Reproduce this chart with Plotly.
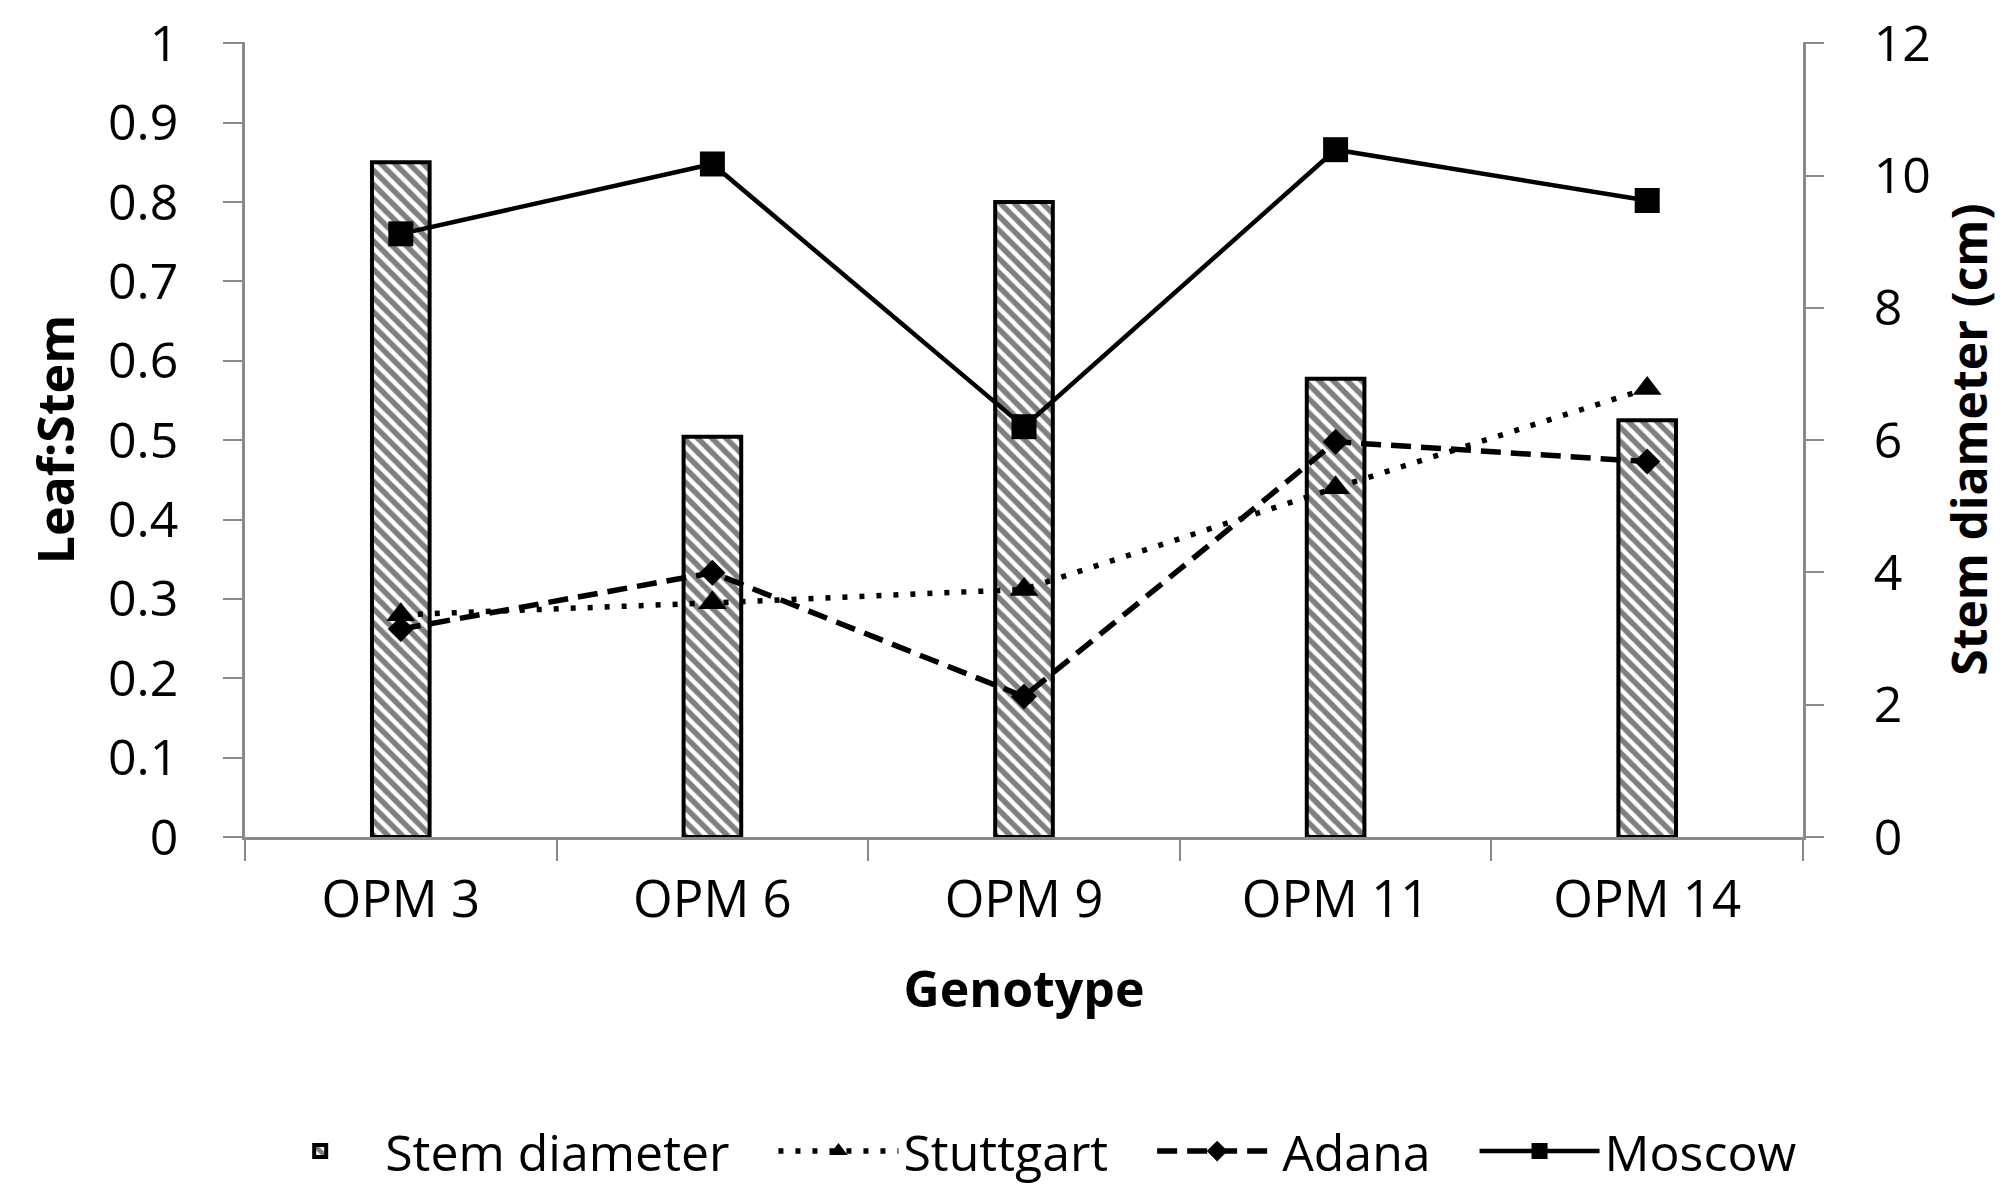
import plotly.graph_objects as go

genotypes = ["OPM 3", "OPM 6", "OPM 9", "OPM 11", "OPM 14"]
stem_diameter = [10.2, 6.05, 9.6, 6.93, 6.3]
stuttgart = [0.28, 0.295, 0.312, 0.44, 0.565]
adana = [0.262, 0.333, 0.177, 0.498, 0.473]
moscow = [0.76, 0.848, 0.517, 0.866, 0.802]
series_names = ["Stem diameter", "Stuttgart", "Adana", "Moscow"]

FONT = "Open Sans"
AXIS_GRAY = "#8a8a8a"
GAP = "\u00a0" * 3  # extra room between legend entries

fig = go.Figure()

# bars on the primary axis (drawn on the right side) so the lines sit on top
fig.add_trace(go.Bar(
    x=genotypes, y=stem_diameter, name=series_names[0] + GAP, yaxis="y",
    width=0.185,
    marker=dict(color="white", line=dict(color="black", width=4),
                pattern=dict(shape="\\", fgcolor="black", bgcolor="white",
                             size=10, solidity=0.55)),
))
fig.add_trace(go.Scatter(
    x=genotypes, y=stuttgart, name=series_names[1] + GAP, yaxis="y2", mode="lines+markers",
    line=dict(color="black", width=5.5, dash="5px,12px"),
    marker=dict(symbol="triangle-up", size=25, color="black"),
))
fig.add_trace(go.Scatter(
    x=genotypes, y=adana, name=series_names[2] + GAP, yaxis="y2", mode="lines+markers",
    line=dict(color="black", width=5.5, dash="20px,10px"),
    marker=dict(symbol="diamond", size=20, color="black"),
))
fig.add_trace(go.Scatter(
    x=genotypes, y=moscow, name=series_names[3], yaxis="y2", mode="lines+markers",
    line=dict(color="black", width=4.5),
    marker=dict(symbol="square", size=25, color="black"),
))

fig.update_layout(
    width=2006, height=1187,
    margin=dict(l=237, r=211, t=34, b=358, autoexpand=False),
    plot_bgcolor="white", paper_bgcolor="white",
    font=dict(family=FONT, size=50, color="black"),
    xaxis=dict(
        type="category", range=[-0.5, 4.5], automargin=False,
        showline=True, linecolor=AXIS_GRAY, linewidth=2.5,
        ticks="outside", tickson="boundaries", ticklen=21, tickcolor=AXIS_GRAY, tickwidth=2,
        ticklabelstandoff=16, showgrid=False, tickfont=dict(size=51),
        title=dict(text="<b>Genotype</b>", standoff=42, font=dict(size=50)),
    ),
    yaxis=dict(
        side="right", range=[0, 12.02], tickvals=[0, 2, 4, 6, 8, 10, 12],
        automargin=False,
        showline=True, linecolor=AXIS_GRAY, linewidth=2.5,
        ticks="outside", ticklen=18, tickcolor=AXIS_GRAY, tickwidth=2,
        showgrid=False, zeroline=False, ticklabelstandoff=40,
        ticklabeloverflow="allow",
        title=dict(text="<b>Stem diameter (cm)</b>", standoff=24, font=dict(size=48)),
    ),
    yaxis2=dict(
        side="left", overlaying="y", range=[0, 1.0017],
        tickvals=[0, 0.1, 0.2, 0.3, 0.4, 0.5, 0.6, 0.7, 0.8, 0.9, 1],
        ticktext=["0", "0.1", "0.2", "0.3", "0.4", "0.5", "0.6", "0.7", "0.8", "0.9", "1"],
        automargin=False,
        showline=True, linecolor=AXIS_GRAY, linewidth=2.5,
        ticks="outside", ticklen=19, tickcolor=AXIS_GRAY, tickwidth=2,
        showgrid=False, zeroline=False, ticklabelstandoff=35,
        ticklabeloverflow="allow",
        title=dict(text="<b>Leaf:Stem</b>", standoff=18, font=dict(size=50)),
    ),
    legend=dict(
        orientation="h", x=0.503, y=-0.395, xanchor="center", yanchor="middle",
        font=dict(size=50), traceorder="normal", itemwidth=120,
    ),
)

fig.write_html("out.html")
